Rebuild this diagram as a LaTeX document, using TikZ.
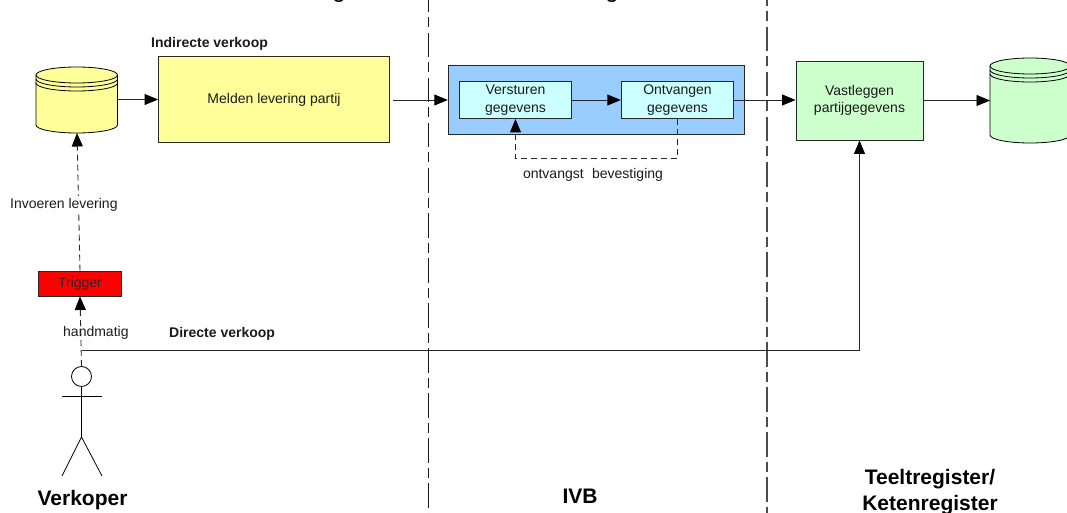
\documentclass[tikz,border=0pt]{standalone}
\usepackage{fontspec}
\setmainfont{Liberation Sans}
\usetikzlibrary{arrows.meta}
\definecolor{yel}{HTML}{FFFF99}
\definecolor{blu}{HTML}{99CCFF}
\definecolor{cya}{HTML}{CCFFFF}
\definecolor{grn}{HTML}{CCFFCC}
\definecolor{txt}{HTML}{1A1A1A}
\tikzset{
  x=1pt,y=-1pt,
  flow/.style={line width=0.9pt,draw=black!85,-{Triangle[length=13.5pt,width=11pt,black]}},
  dflow/.style={flow,dash pattern=on 6pt off 4pt},
  boxn/.style={draw=black!85,line width=0.9pt,inner sep=0pt,align=center,font=\fontsize{14}{17.5}\selectfont,text=txt},
  lbl/.style={inner sep=0pt,font=\fontsize{14}{16}\selectfont,text=txt},
  blbl/.style={inner sep=0pt,font=\fontsize{14}{16}\selectfont\bfseries,text=txt},
  role/.style={inner sep=0pt,align=center,font=\fontsize{21}{26}\selectfont\bfseries,text=black},
  laneA/.style={line width=1.1pt,black!90,dash pattern=on 24.5pt off 5pt on 10pt off 5.5pt,dash phase=12pt},
  laneB/.style={line width=1.4pt,black!70,dash pattern=on 24.5pt off 5pt on 10pt off 5.5pt,dash phase=18pt},
  cyl/.style={draw=black,line width=0.8pt},
  actor/.style={draw=black,line width=0.8pt}
}
\newcommand{\dn}[2]{\raisebox{-#1pt}{#2}}
% name, x-centre, x-radius, y-top, y-bottom, colour
\newcommand{\dbcyl}[6]{%
  \fill[#6] (#2-#3,#4) arc[x radius=#3pt,y radius=8pt,start angle=180,end angle=0] -- (#2+#3,#5) arc[x radius=#3pt,y radius=8pt,start angle=0,end angle=-180] -- cycle;
  \draw[cyl] (#2-#3,#4) arc[x radius=#3pt,y radius=8pt,start angle=180,end angle=-180];
  \draw[cyl] (#2-#3,#4+4) arc[x radius=#3pt,y radius=8pt,start angle=180,end angle=360];
  \draw[cyl] (#2-#3,#4+8) arc[x radius=#3pt,y radius=8pt,start angle=180,end angle=360];
  \draw[cyl] (#2-#3,#4) -- (#2-#3,#5) arc[x radius=#3pt,y radius=8pt,start angle=180,end angle=360] -- (#2+#3,#4);
  \coordinate (#1-w) at (#2-#3,{(#4+#5)/2});
  \coordinate (#1-e) at (#2+#3,{(#4+#5)/2});
}
\begin{document}
\begin{tikzpicture}
\useasboundingbox (0,0) rectangle (1067,513);
\begin{scope}
\clip (0,0) rectangle (1067,513);
\node[anchor=base,inner sep=0pt,font=\fontsize{24}{28}\selectfont] (t1) at (339,-2) {g};
\node[anchor=base,inner sep=0pt,font=\fontsize{24}{28}\selectfont] (t2) at (612,-2) {g};
% lanes
\draw[laneA] (428.5,0) -- (428.5,513);
\draw[laneB] (767,0) -- (767,513);
% databases
\dbcyl{dbl}{76.75}{40.75}{75}{125}{yel}
\dbcyl{dbr}{1030}{40}{66}{135}{grn}
\end{scope}
\coordinate (dbl-s) at (77,133);
% boxes
\node[boxn,fill=yel,minimum width=231pt,minimum height=86.5pt] (melden) at (274,99.5) {\dn{1}{Melden levering partij}};
\node[boxn,fill=blu,minimum width=296.5pt,minimum height=69pt] (ivb) at (596.5,100) {};
\node[boxn,fill=cya,minimum width=112.5pt,minimum height=37pt] (vers) at (515.5,100) {\dn{1.5}{Versturen}\\\dn{1.5}{gegevens}};
\node[boxn,fill=cya,minimum width=112.5pt,minimum height=37pt] (ontv) at (677.5,100) {\dn{1.5}{Ontvangen}\\\dn{1.5}{gegevens}};
\node[boxn,fill=grn,minimum width=127pt,minimum height=79pt] (vast) at (859.5,100.5) {\dn{0.7}{Vastleggen}\\\dn{0.7}{partijgegevens}};
\node[boxn,fill=red,minimum width=83pt,minimum height=25pt,text=black!85] (trig) at (80,283.5) {\dn{2}{Trigger}};
% actor
\node[draw=black,line width=0.8pt,circle,minimum size=20pt,inner sep=0pt] (head) at (81.5,376.5) {};
\coordinate (hipc) at (81.5,437);
\coordinate (armL) at (62,396);
\coordinate (armR) at (102,396);
\coordinate (footL) at (62,476);
\coordinate (footR) at (102,476);
\draw[actor] (head.south) -- (hipc);
\draw[actor] (armL) -- (armR);
\draw[actor] (footL) -- (hipc) -- (footR);
% connectors
\coordinate (d1) at (515.5,158.5);
\coordinate (d2) at (677.5,158.5);
\coordinate (corner) at (859.5,350);
\coordinate (start) at (81.5,350);
\draw[flow] (dbl-e |- melden.west) -- (melden.west);
\draw[flow,shorten <=3pt] (melden.east |- ivb.west) -- (ivb.west);
\draw[flow] (vers.east) -- (ontv.west);
\draw[flow] (ontv.east) -- (vast.west |- ontv.east);
\draw[flow] (vast.east) -- (dbr-w |- vast.east);
\draw[dflow] (ontv.south) -- (d2) -- (d1) -- (vers.south);
\draw[dflow] (trig.north) -- (dbl-s);
\draw[dflow] (head.north) -- (trig.south);
\draw[flow] (start) -- (corner) -- (vast.south);
% labels
\node[blbl,anchor=west] (l1) at (151,43.5) {Indirecte verkoop};
\node[lbl] (l2) at (593,174.5) {ontvangst\hspace{0.6em}bevestiging};
\node[lbl,anchor=west,fill=white,inner ysep=2pt] (l3) at (10,205) {Invoeren levering};
\node[lbl,anchor=west] (l4) at (63,333) {handmatig};
\node[blbl,anchor=west] (l5) at (169,334) {Directe verkoop};
\node[role] (r1) at (82.5,500) {Verkoper};
\node[role] (r2) at (580,496) {IVB};
\node[role] (r3) at (930,492) {Teeltregister/\\Ketenregister};
\end{tikzpicture}
\end{document}
